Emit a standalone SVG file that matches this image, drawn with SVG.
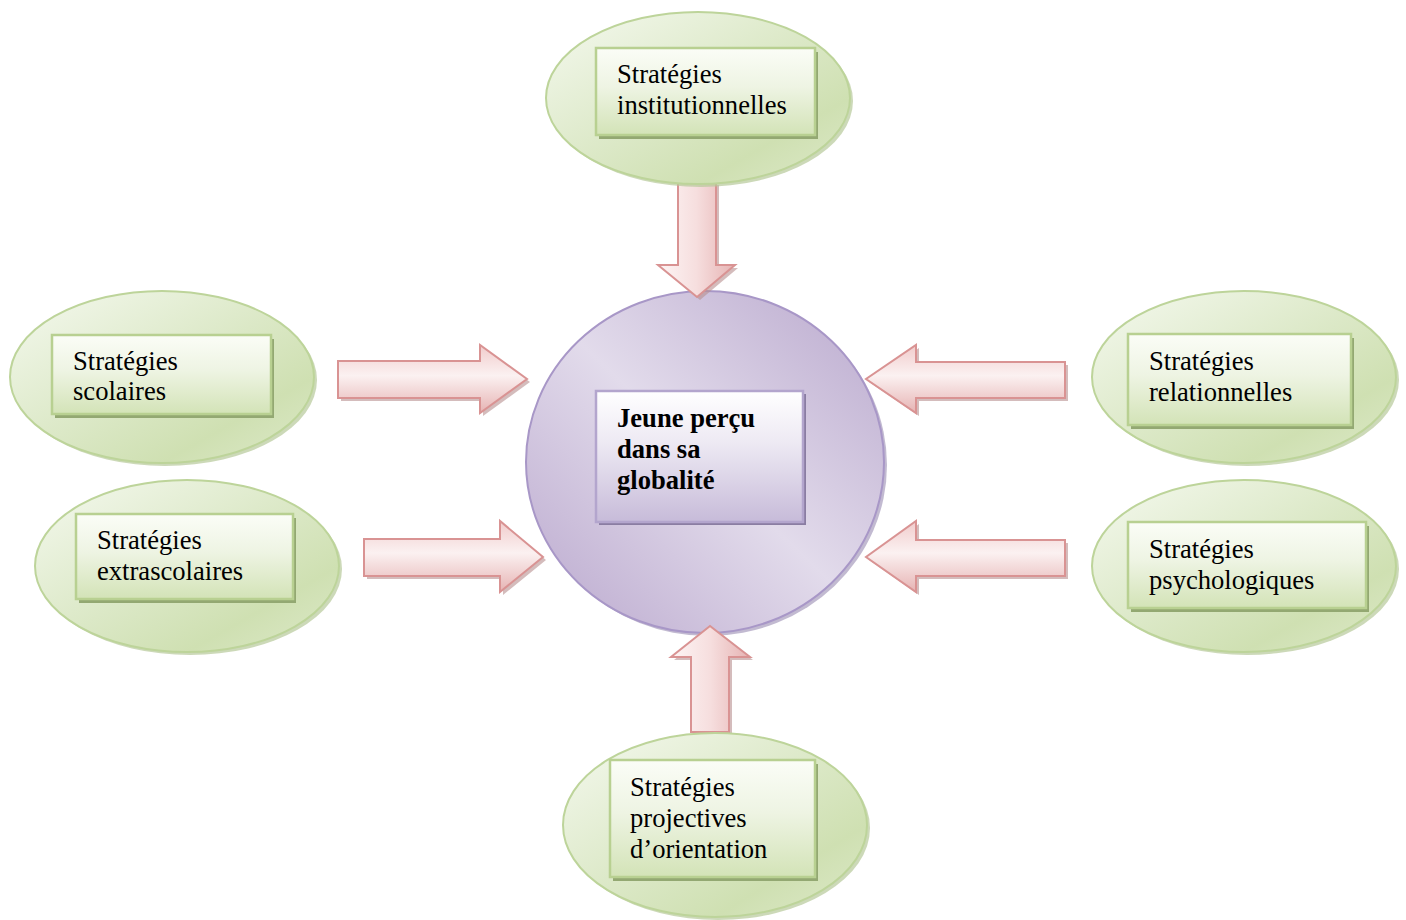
<svg xmlns="http://www.w3.org/2000/svg" width="1406" height="920" viewBox="0 0 1406 920">
<style>
text{font-family:"Liberation Serif","Times New Roman",serif;font-size:26.6px;fill:#000}
.b{font-weight:bold}
.ell{fill:url(#gEll);stroke:#bdd49a;stroke-width:2}
.ellsh{fill:#b6c99a;opacity:0.7}
.box{fill:url(#gBox);stroke:#b8d091;stroke-width:2.5}
.boxsh{fill:#93a872}
.arr{fill:url(#gArrH);stroke:#d99393;stroke-width:2}
.arrv{fill:url(#gArrV);stroke:#d99393;stroke-width:2}
.arrsh{fill:#b88f8f;opacity:0.6}
</style>
<defs>
<linearGradient id="gEll" x1="0" y1="0" x2="1" y2="1">
<stop offset="0" stop-color="#f5f9ef"/>
<stop offset="0.5" stop-color="#dbe8c6"/>
<stop offset="0.75" stop-color="#cfe0b2"/>
<stop offset="1" stop-color="#dde9c9"/>
</linearGradient>
<linearGradient id="gBox" x1="0" y1="0" x2="0" y2="1">
<stop offset="0" stop-color="#fbfdf7"/>
<stop offset="0.45" stop-color="#eef4e3"/>
<stop offset="1" stop-color="#d3e3b7"/>
</linearGradient>
<linearGradient id="gCirc" x1="0" y1="1" x2="1" y2="0">
<stop offset="0" stop-color="#b9a7cd"/>
<stop offset="0.5" stop-color="#e2dbeb"/>
<stop offset="1" stop-color="#b9a8cd"/>
</linearGradient>
<linearGradient id="gCBox" x1="0" y1="0" x2="0" y2="1">
<stop offset="0" stop-color="#ffffff"/>
<stop offset="0.4" stop-color="#ede9f3"/>
<stop offset="1" stop-color="#c7bbd9"/>
</linearGradient>
<linearGradient id="gArrH" x1="0" y1="0" x2="0" y2="1">
<stop offset="0" stop-color="#f1cccc"/>
<stop offset="0.45" stop-color="#fbf1f1"/>
<stop offset="1" stop-color="#e6b3b3"/>
</linearGradient>
<linearGradient id="gArrV" x1="0" y1="0" x2="1" y2="0">
<stop offset="0" stop-color="#fdf5f5"/>
<stop offset="0.5" stop-color="#f6dede"/>
<stop offset="1" stop-color="#e6b3b3"/>
</linearGradient>
</defs>

<g id="center">
<ellipse cx="708" cy="465" rx="179" ry="171" fill="#9a8cb3" opacity="0.6"/>
<ellipse cx="705" cy="462" rx="179" ry="171" fill="url(#gCirc)" stroke="#a897c7" stroke-width="2"/>
<rect x="599" y="394" width="207" height="131" fill="#8a7da2"/>
<rect x="596" y="391" width="207" height="131" fill="url(#gCBox)" stroke="#b3a5cd" stroke-width="2.5"/>
<text class="b" x="617" y="427">Jeune perçu</text>
<text class="b" x="617" y="458">dans sa</text>
<text class="b" x="617" y="489">globalité</text>
</g>

<g id="connectors">
<path class="arrsh" d="M341,364 H483 V348 L530,382 L483,416 V401 H341 Z"/>
<path class="arr" d="M338,361 H480 V345 L527,379 L480,413 V398 H338 Z"/>
<path class="arrsh" d="M367,542 H503 V524 L546,560 L503,595 V579 H367 Z"/>
<path class="arr" d="M364,539 H500 V521 L543,557 L500,592 V576 H364 Z"/>
<path class="arrsh" d="M1068,365 H919 V348 L869,382 L919,416 V401 H1068 Z"/>
<path class="arr" d="M1065,362 H916 V345 L866,379 L916,413 V398 H1065 Z"/>
<path class="arrsh" d="M1068,543 H919 V524 L869,560 L919,595 V579 H1068 Z"/>
<path class="arr" d="M1065,540 H916 V521 L866,557 L916,592 V576 H1065 Z"/>
<path class="arrsh" d="M681,185 V268 H661 L700,300 L738,268 H719 V185 Z"/>
<path class="arrv" d="M678,182 V265 H658 L697,297 L735,265 H716 V182 Z"/>
<path class="arrsh" d="M694,735 V660 H674 L713,629 L753,660 H732 V735 Z"/>
<path class="arrv" d="M691,732 V657 H671 L710,626 L750,657 H729 V732 Z"/>
</g>

<g id="institutionnelles">
<ellipse class="ellsh" cx="701" cy="101" rx="152" ry="86"/>
<ellipse class="ell" cx="698" cy="98" rx="152" ry="86"/>
<rect class="boxsh" x="599" y="52" width="219" height="87"/>
<rect class="box" x="596" y="48" width="219" height="87"/>
<text x="617" y="83">Stratégies</text>
<text x="617" y="114">institutionnelles</text>
</g>

<g id="scolaires">
<ellipse class="ellsh" cx="165" cy="380" rx="152" ry="86"/>
<ellipse class="ell" cx="162" cy="377" rx="152" ry="86"/>
<rect class="boxsh" x="55" y="339" width="219" height="79"/>
<rect class="box" x="52" y="335" width="219" height="79"/>
<text x="73" y="370">Stratégies</text>
<text x="73" y="400">scolaires</text>
</g>

<g id="extrascolaires">
<ellipse class="ellsh" cx="190" cy="569" rx="152" ry="86"/>
<ellipse class="ell" cx="187" cy="566" rx="152" ry="86"/>
<rect class="boxsh" x="79" y="518" width="217" height="85"/>
<rect class="box" x="76" y="514" width="217" height="85"/>
<text x="97" y="549">Stratégies</text>
<text x="97" y="580">extrascolaires</text>
</g>

<g id="relationnelles">
<ellipse class="ellsh" cx="1247" cy="380" rx="152" ry="86"/>
<ellipse class="ell" cx="1244" cy="377" rx="152" ry="86"/>
<rect class="boxsh" x="1131" y="338" width="223" height="91"/>
<rect class="box" x="1128" y="334" width="223" height="91"/>
<text x="1149" y="370">Stratégies</text>
<text x="1149" y="401">relationnelles</text>
</g>

<g id="psychologiques">
<ellipse class="ellsh" cx="1247" cy="569" rx="152" ry="86"/>
<ellipse class="ell" cx="1244" cy="566" rx="152" ry="86"/>
<rect class="boxsh" x="1131" y="526" width="238" height="86"/>
<rect class="box" x="1128" y="522" width="238" height="86"/>
<text x="1149" y="558">Stratégies</text>
<text x="1149" y="589">psychologiques</text>
</g>

<g id="projectives">
<ellipse class="ellsh" cx="718" cy="828" rx="152" ry="92"/>
<ellipse class="ell" cx="715" cy="825" rx="152" ry="92"/>
<rect class="boxsh" x="613" y="764" width="205" height="117"/>
<rect class="box" x="610" y="760" width="205" height="117"/>
<text x="630" y="796">Stratégies</text>
<text x="630" y="827">projectives</text>
<text x="630" y="858">d’orientation</text>
</g>
</svg>
